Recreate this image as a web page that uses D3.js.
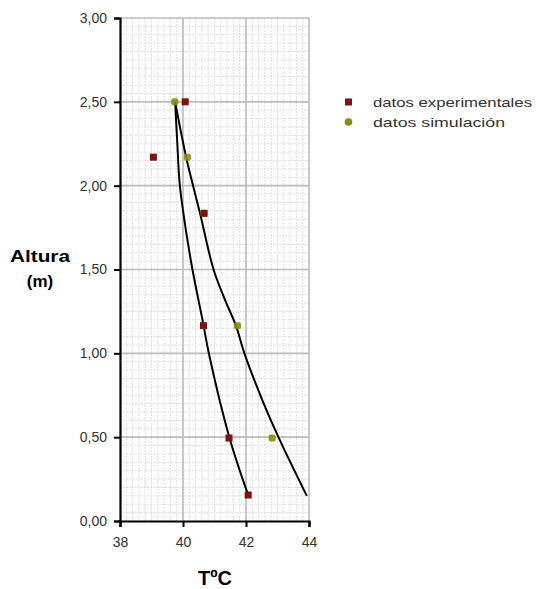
<!DOCTYPE html>
<html>
<head>
<meta charset="utf-8">
<script src="https://cdn.jsdelivr.net/npm/d3@7"></script>
<style>
  html, body { margin: 0; padding: 0; background: #fff; }
  svg text { font-family: Arial, "Liberation Sans", sans-serif; }
</style>
</head>
<body>
<svg id="chart" width="539" height="589"></svg>
<script>
// Measured temperatures (°C) at each height (m)
const expTemp   = [40.07, 39.06, 40.67, 40.65, 41.46, 42.07];
const expHeight = [2.50, 2.17, 1.835, 1.165, 0.495, 0.155];

const simTemp   = [39.74, 40.14, 40.66, 41.73, 42.83];
const simHeight = [2.50, 2.17, 1.835, 1.165, 0.495];

// Trend curves (temperature, height)
const trendExpT = [39.75, 39.82, 39.90, 40.08, 40.30, 40.65, 40.82, 41.47, 42.06];
const trendExpH = [2.50, 2.25, 2.00, 1.75, 1.50, 1.17, 1.00, 0.50, 0.16];

const trendSimT = [39.75, 40.10, 40.32, 40.54, 40.97, 41.33, 41.68, 41.95, 42.52, 43.03, 43.93];
const trendSimH = [2.50, 2.17, 2.00, 1.835, 1.50, 1.32, 1.165, 1.00, 0.72, 0.50, 0.15];

const xTicks = [38, 40, 42, 44];
const yTicks = [0, 0.5, 1.0, 1.5, 2.0, 2.5, 3.0];

const seriesNames = ["datos experimentales", "datos simulación"];
const seriesColors = ["#7d1313", "#8a8a12"];

const svg = d3.select("#chart");
const x = d3.scaleLinear().domain([38, 44]).range([120, 309]);
const y = d3.scaleLinear().domain([0, 3]).range([521, 18]);

const fmt = v => d3.format(".2f")(v).replace(".", ",");

// minor grid
const g = svg.append("g");
g.selectAll("line.mx").data(d3.range(38.2, 44, 0.2)).join("line")
  .attr("x1", d => x(d)).attr("x2", d => x(d))
  .attr("y1", y(0)).attr("y2", y(3))
  .attr("stroke", "#e0e0e0").attr("stroke-width", 1).attr("stroke-dasharray", "2,1");
g.selectAll("line.my").data(d3.range(1, 60).map(i => i * 0.05)).join("line")
  .attr("y1", d => y(d)).attr("y2", d => y(d))
  .attr("x1", x(38)).attr("x2", x(44))
  .attr("stroke", "#e0e0e0").attr("stroke-width", 1).attr("stroke-dasharray", "2,1");

// major grid
g.selectAll("line.Mx").data([40, 42, 44]).join("line")
  .attr("x1", d => x(d)).attr("x2", d => x(d))
  .attr("y1", y(0)).attr("y2", y(3))
  .attr("stroke", "#bdbdbd").attr("stroke-width", 1.6);
g.selectAll("line.My").data([0.5, 1, 1.5, 2, 2.5, 3]).join("line")
  .attr("y1", d => y(d)).attr("y2", d => y(d))
  .attr("x1", x(38)).attr("x2", x(44))
  .attr("stroke", "#bdbdbd").attr("stroke-width", 1.6);

// trend curves
const line = d3.line().x(d => x(d[0])).y(d => y(d[1])).curve(d3.curveCatmullRom);
svg.append("path").datum(d3.zip(trendExpT, trendExpH))
  .attr("d", line).attr("fill", "none").attr("stroke", "#000").attr("stroke-width", 2);
svg.append("path").datum(d3.zip(trendSimT, trendSimH))
  .attr("d", line).attr("fill", "none").attr("stroke", "#000").attr("stroke-width", 2);

// simulation markers (drawn first, experimental on top)
svg.selectAll("rect.sim").data(d3.zip(simTemp, simHeight)).join("rect")
  .attr("x", d => x(d[0]) - 3.5).attr("y", d => y(d[1]) - 3.5)
  .attr("width", 7).attr("height", 7).attr("rx", 2)
  .attr("fill", seriesColors[1]).attr("opacity", 0.9);
svg.selectAll("rect.exp").data(d3.zip(expTemp, expHeight)).join("rect")
  .attr("x", d => x(d[0]) - 3.5).attr("y", d => y(d[1]) - 3.5)
  .attr("width", 7).attr("height", 7)
  .attr("fill", seriesColors[0]);

// axes
const xAxis = svg.append("g").attr("transform", `translate(0,${y(0)})`)
  .call(d3.axisBottom(x).tickValues(xTicks).tickSize(6).tickPadding(10).tickFormat(d3.format("d")));
const yAxis = svg.append("g").attr("transform", `translate(${x(38)},0)`)
  .call(d3.axisLeft(y).tickValues(yTicks).tickSize(6).tickPadding(7).tickFormat(fmt));
[xAxis, yAxis].forEach(a => {
  a.select(".domain").attr("stroke", "#000").attr("stroke-width", 2.2);
  a.selectAll(".tick line").attr("stroke", "#000").attr("stroke-width", 2);
  a.selectAll(".tick text").attr("fill", "#333").attr("font-size", 14)
    .attr("font-family", "Arial, 'Liberation Sans', sans-serif");
});

// axis titles
svg.append("text").attr("x", 215).attr("y", 585).attr("text-anchor", "middle")
  .attr("font-size", 20).attr("font-weight", "bold").attr("fill", "#000").text("TºC");
svg.append("text").attr("x", 40).attr("y", 262).attr("text-anchor", "middle")
  .attr("font-size", 17).attr("font-weight", "bold").attr("fill", "#000")
  .attr("textLength", 60).attr("lengthAdjust", "spacingAndGlyphs").text("Altura");
svg.append("text").attr("x", 40).attr("y", 287).attr("text-anchor", "middle")
  .attr("font-size", 17).attr("font-weight", "bold").attr("fill", "#000").text("(m)");

// legend
const legend = svg.append("g");
seriesNames.forEach((name, i) => {
  const ly = 102 + i * 20;
  if (i === 0) {
    legend.append("rect").attr("x", 345).attr("y", ly - 3.5).attr("width", 7).attr("height", 7)
      .attr("fill", seriesColors[i]);
  } else {
    legend.append("circle").attr("cx", 348.5).attr("cy", ly).attr("r", 3.8)
      .attr("fill", seriesColors[i]);
  }
  legend.append("text").attr("x", 373).attr("y", ly + 5)
    .attr("font-size", 13).attr("fill", "#333")
    .attr("textLength", i === 0 ? 159 : 132).attr("lengthAdjust", "spacingAndGlyphs")
    .text(name);
});
</script>
</body>
</html>
